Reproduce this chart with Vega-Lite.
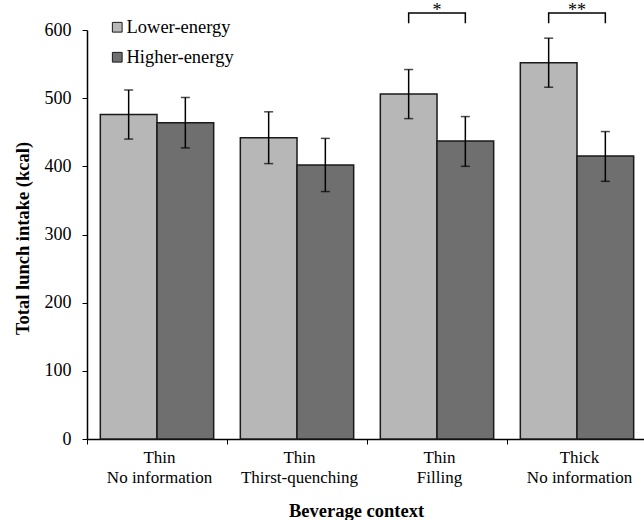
{
  "$schema": "https://vega.github.io/schema/vega-lite/v6.json",
  "autosize": {"type": "none"},
  "padding": {"left": 87, "top": 30, "right": 0, "bottom": 81},
  "width": 560,
  "height": 409,
  "background": "white",
  "config": {
    "view": {"stroke": null},
    "font": "Liberation Serif",
    "axis": {
      "labelFont": "Liberation Serif",
      "titleFont": "Liberation Serif",
      "labelColor": "black",
      "titleColor": "black",
      "domainColor": "black",
      "tickColor": "black",
      "grid": false
    }
  },
  "datasets": {
    "bars": [
      {"context": "Thin|No information", "beverage": "Lower-energy", "kcal": 476, "lo": 440, "hi": 512},
      {"context": "Thin|No information", "beverage": "Higher-energy", "kcal": 464, "lo": 427, "hi": 501},
      {"context": "Thin|Thirst-quenching", "beverage": "Lower-energy", "kcal": 442, "lo": 404, "hi": 480},
      {"context": "Thin|Thirst-quenching", "beverage": "Higher-energy", "kcal": 402, "lo": 363, "hi": 441},
      {"context": "Thin|Filling", "beverage": "Lower-energy", "kcal": 506, "lo": 470, "hi": 542},
      {"context": "Thin|Filling", "beverage": "Higher-energy", "kcal": 437, "lo": 400, "hi": 473},
      {"context": "Thick|No information", "beverage": "Lower-energy", "kcal": 552, "lo": 516, "hi": 588},
      {"context": "Thick|No information", "beverage": "Higher-energy", "kcal": 415, "lo": 378, "hi": 451}
    ],
    "brackets": [
      {"context": "Thin|Filling", "beverage": "Lower-energy", "y": 610, "o": 1, "id": "a"},
      {"context": "Thin|Filling", "beverage": "Lower-energy", "y": 625, "o": 2, "id": "a"},
      {"context": "Thin|Filling", "beverage": "Higher-energy", "y": 625, "o": 3, "id": "a"},
      {"context": "Thin|Filling", "beverage": "Higher-energy", "y": 610, "o": 4, "id": "a"},
      {"context": "Thick|No information", "beverage": "Lower-energy", "y": 610, "o": 1, "id": "b"},
      {"context": "Thick|No information", "beverage": "Lower-energy", "y": 625, "o": 2, "id": "b"},
      {"context": "Thick|No information", "beverage": "Higher-energy", "y": 625, "o": 3, "id": "b"},
      {"context": "Thick|No information", "beverage": "Higher-energy", "y": 610, "o": 4, "id": "b"}
    ],
    "stars": [
      {"context": "Thin|Filling", "y": 620, "label": "*"},
      {"context": "Thick|No information", "y": 620, "label": "**"}
    ]
  },
  "encoding": {
    "x": {
      "field": "context",
      "type": "nominal",
      "sort": ["Thin|No information", "Thin|Thirst-quenching", "Thin|Filling", "Thick|No information"],
      "scale": {"paddingInner": 0, "paddingOuter": 0},
      "axis": {
        "title": "Beverage context",
        "titleFontSize": 18.5,
        "titleFontWeight": "bold",
        "titleX": 269,
        "titleY": 77.5,
        "titleAlign": "center",
        "titleBaseline": "alphabetic",
        "labelExpr": "split(datum.label, '|')",
        "labelAngle": 0,
        "labelFontSize": 17,
        "labelLineHeight": 20.5,
        "labelBaseline": "top",
        "labelPadding": 5,
        "labelOffset": 2,
        "tickBand": "extent",
        "tickSize": 5,
        "tickWidth": 1,
        "domainWidth": 1.5
      }
    }
  },
  "layer": [
    {
      "data": {"name": "bars"},
      "mark": {"type": "bar", "stroke": "#1a1a1a", "strokeWidth": 1.5},
      "encoding": {
        "xOffset": {
          "field": "beverage",
          "type": "nominal",
          "sort": ["Lower-energy", "Higher-energy"],
          "scale": {"paddingInner": 0, "paddingOuter": 0.235}
        },
        "y": {
          "field": "kcal",
          "type": "quantitative",
          "scale": {"domain": [0, 600], "nice": false},
          "axis": {
            "title": "Total lunch intake (kcal)",
            "titleFontSize": 18.5,
            "titleFontWeight": "bold",
            "titleX": -59,
            "titleY": 208,
            "titleAlign": "center",
            "titleBaseline": "alphabetic",
            "values": [0, 100, 200, 300, 400, 500, 600],
            "labelFontSize": 18,
            "labelPadding": 11,
            "tickSize": 5,
            "tickWidth": 1,
            "domainWidth": 1.5
          }
        },
        "color": {
          "field": "beverage",
          "type": "nominal",
          "sort": ["Lower-energy", "Higher-energy"],
          "scale": {"domain": ["Lower-energy", "Higher-energy"], "range": ["#B7B7B7", "#6F6F6F"]},
          "legend": {
            "title": null,
            "orient": "none",
            "legendX": 21,
            "legendY": -12,
            "padding": 0,
            "symbolType": "square",
            "symbolSize": 95,
            "symbolStrokeColor": "#1a1a1a",
            "symbolStrokeWidth": 1,
            "symbolOpacity": 1,
            "labelFont": "Liberation Serif",
            "labelFontSize": 18.5,
            "labelColor": "black",
            "labelOffset": 0,
            "rowPadding": 11
          }
        }
      }
    },
    {
      "data": {"name": "bars"},
      "mark": {"type": "rule", "color": "black", "strokeWidth": 1.5},
      "encoding": {
        "xOffset": {"field": "beverage", "type": "nominal", "sort": ["Lower-energy", "Higher-energy"]},
        "y": {"field": "lo", "type": "quantitative"},
        "y2": {"field": "hi"}
      }
    },
    {
      "data": {"name": "bars"},
      "mark": {"type": "tick", "color": "black", "size": 9, "thickness": 1.5},
      "encoding": {
        "xOffset": {"field": "beverage", "type": "nominal", "sort": ["Lower-energy", "Higher-energy"]},
        "y": {"field": "lo", "type": "quantitative"}
      }
    },
    {
      "data": {"name": "bars"},
      "mark": {"type": "tick", "color": "black", "size": 9, "thickness": 1.5},
      "encoding": {
        "xOffset": {"field": "beverage", "type": "nominal", "sort": ["Lower-energy", "Higher-energy"]},
        "y": {"field": "hi", "type": "quantitative"}
      }
    },
    {
      "data": {"name": "brackets"},
      "mark": {"type": "line", "color": "black", "strokeWidth": 1.5, "interpolate": "linear"},
      "encoding": {
        "xOffset": {"field": "beverage", "type": "nominal", "sort": ["Lower-energy", "Higher-energy"]},
        "y": {"field": "y", "type": "quantitative"},
        "detail": {"field": "id", "type": "nominal"},
        "order": {"field": "o", "type": "quantitative"}
      }
    },
    {
      "data": {"name": "stars"},
      "mark": {"type": "text", "font": "Liberation Serif", "fontSize": 18, "color": "black", "baseline": "alphabetic", "align": "center"},
      "encoding": {
        "y": {"field": "y", "type": "quantitative"},
        "text": {"field": "label", "type": "nominal"}
      }
    }
  ]
}
